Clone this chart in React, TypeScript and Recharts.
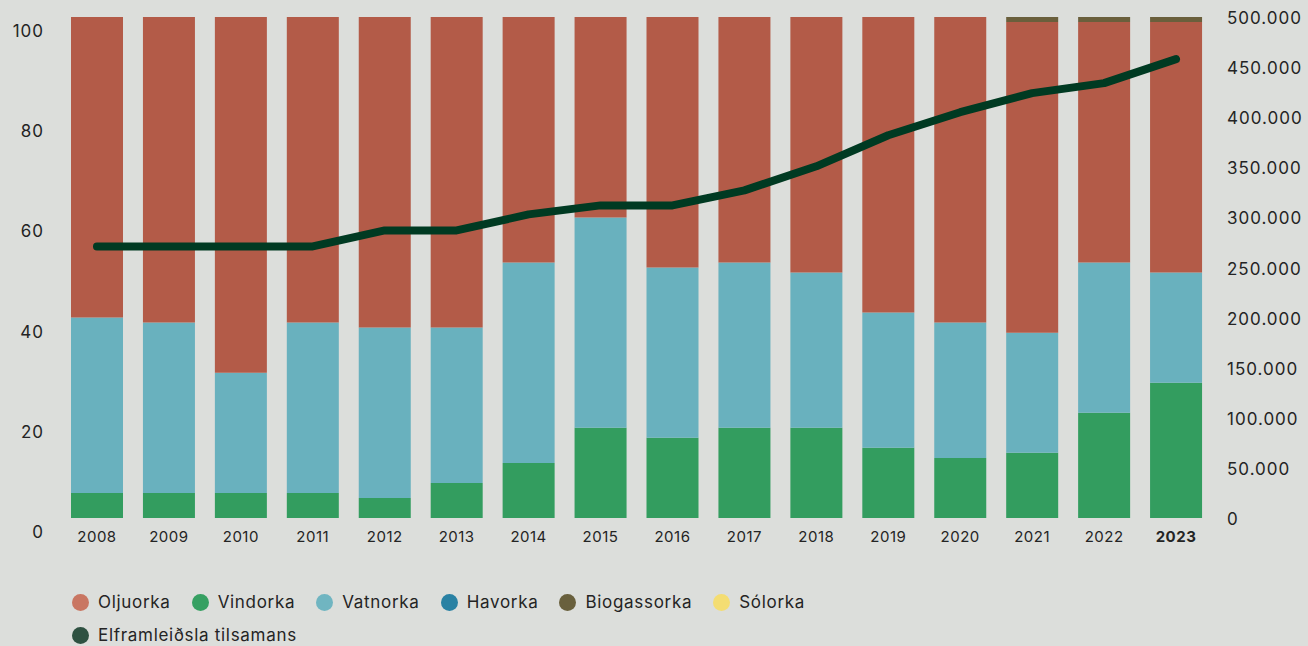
import React from "react";
import {
  ComposedChart,
  Bar,
  Line,
  XAxis,
  YAxis,
  Legend,
} from "recharts";

const years = [
  "2008", "2009", "2010", "2011", "2012", "2013", "2014", "2015",
  "2016", "2017", "2018", "2019", "2020", "2021", "2022", "2023",
];
// share of production, %
const vindorka = [5, 5, 5, 5, 4, 7, 11, 18, 16, 18, 18, 14, 12, 13, 21, 27];
const vatnorka = [35, 34, 24, 34, 34, 31, 40, 42, 34, 33, 31, 27, 27, 24, 30, 22];
const havorka = [0, 0, 0, 0, 0, 0, 0, 0, 0, 0, 0, 0, 0, 0, 0, 0];
const solorka = [0, 0, 0, 0, 0, 0, 0, 0, 0, 0, 0, 0, 0, 0, 0, 0];
const oljuorka = [60, 61, 71, 61, 62, 62, 49, 40, 50, 49, 51, 59, 61, 62, 48, 50];
const biogassorka = [0, 0, 0, 0, 0, 0, 0, 0, 0, 0, 0, 0, 0, 1, 1, 1];
// total production (MWh)
const elframleidsla = [
  271000, 271000, 271000, 271000, 287000, 287000, 303000, 312000,
  312000, 327000, 351000, 382000, 405000, 424000, 434000, 458000,
];

const leftTicks = [0, 20, 40, 60, 80, 100];
const rightTicks = [0, 50000, 100000, 150000, 200000, 250000, 300000, 350000, 400000, 450000, 500000];

const data = years.map((year, i) => ({
  year,
  Vindorka: vindorka[i],
  Vatnorka: vatnorka[i],
  Havorka: havorka[i],
  Sólorka: solorka[i],
  Oljuorka: oljuorka[i],
  Biogassorka: biogassorka[i],
  total: elframleidsla[i],
}));

const FONT = "Inter, 'DejaVu Sans', sans-serif";
const TEXT = "#242424";

const legendItems = [
  { name: "Oljuorka", color: "#C97662" },
  { name: "Vindorka", color: "#36A062" },
  { name: "Vatnorka", color: "#70B5C1" },
  { name: "Havorka", color: "#2981A3" },
  { name: "Biogassorka", color: "#69603D" },
  { name: "Sólorka", color: "#F4DD72" },
  { name: "Elframleiðsla tilsamans", color: "#2E5141" },
];

const fmtThousands = (v: number) =>
  String(v).replace(/\B(?=(\d{3})+(?!\d))/g, ".");

function LeftTick(props: any) {
  const { x, y, payload } = props;
  return (
    <text
      x={x + 1}
      y={y}
      dy={20}
      textAnchor="end"
      fill={TEXT}
      fontSize={17}
      letterSpacing={1}
      fontFamily={FONT}
    >
      {payload.value}
    </text>
  );
}

function RightTick(props: any) {
  const { x, y, payload } = props;
  return (
    <text
      x={x}
      y={y}
      dy={7}
      textAnchor="start"
      fill={TEXT}
      fontSize={17}
      letterSpacing={1}
      fontFamily={FONT}
    >
      {fmtThousands(payload.value)}
    </text>
  );
}

function YearTick(props: any) {
  const { x, y, payload, index } = props;
  const last = index === years.length - 1;
  return (
    <text
      x={x}
      y={y}
      dy={11}
      textAnchor="middle"
      fill={TEXT}
      fontSize={15}
      letterSpacing={0.5}
      fontWeight={last ? 700 : 400}
      fontFamily={FONT}
    >
      {payload.value}
    </text>
  );
}

function LegendContent() {
  return (
    <div
      style={{
        height: 62,
        width: 880,
        boxSizing: "border-box",
        paddingLeft: 72,
        paddingTop: 8,
        display: "flex",
        flexWrap: "wrap",
        alignContent: "flex-start",
        rowGap: 13,
        columnGap: 21,
        fontFamily: FONT,
        fontSize: 17,
        letterSpacing: 0.7,
        color: TEXT,
      }}
    >
      {legendItems.map((it) => (
        <div key={it.name} style={{ display: "flex", alignItems: "center", height: 20 }}>
          <span
            style={{
              width: 17,
              height: 17,
              borderRadius: "50%",
              background: it.color,
              marginRight: 9,
              display: "inline-block",
            }}
          />
          <span>{it.name}</span>
        </div>
      ))}
    </div>
  );
}

export default function App() {
  return (
    <div
      style={{
        position: "absolute",
        left: 0,
        top: 0,
        width: 1308,
        height: 646,
        background: "#DCDEDB",
      }}
    >
      <ComposedChart
        width={1308}
        height={646}
        data={data}
        margin={{ top: 17, right: 0, bottom: 0, left: 0 }}
        barSize={52}
      >
        <XAxis
          dataKey="year"
          height={66}
          axisLine={false}
          tickLine={false}
          tickSize={0}
          tickMargin={13}
          interval={0}
          tick={<YearTick />}
        />
        <YAxis
          yAxisId="left"
          width={61}
          domain={[0, 100]}
          ticks={leftTicks}
          axisLine={false}
          tickLine={false}
          tickSize={0}
          tickMargin={18}
          tick={<LeftTick />}
        />
        <YAxis
          yAxisId="right"
          orientation="right"
          width={96}
          domain={[0, 500000]}
          ticks={rightTicks}
          axisLine={false}
          tickLine={false}
          tickSize={0}
          tickMargin={15}
          tick={<RightTick />}
        />
        <Legend verticalAlign="bottom" align="left" content={<LegendContent />} />
        <Bar yAxisId="left" dataKey="Vindorka" stackId="a" fill="#339D5F" isAnimationActive={false} />
        <Bar yAxisId="left" dataKey="Vatnorka" stackId="a" fill="#69B1BE" isAnimationActive={false} />
        <Bar yAxisId="left" dataKey="Havorka" stackId="a" fill="#2981A3" isAnimationActive={false} />
        <Bar yAxisId="left" dataKey="Sólorka" stackId="a" fill="#F4DD72" isAnimationActive={false} />
        <Bar yAxisId="left" dataKey="Oljuorka" stackId="a" fill="#B35B48" isAnimationActive={false} />
        <Bar yAxisId="left" dataKey="Biogassorka" stackId="a" fill="#6A5F3C" isAnimationActive={false} />
        <Line
          yAxisId="right"
          dataKey="total"
          type="linear"
          stroke="#003A22"
          strokeWidth={8}
          strokeLinecap="round"
          strokeLinejoin="round"
          dot={false}
          activeDot={false}
          isAnimationActive={false}
        />
      </ComposedChart>
    </div>
  );
}
